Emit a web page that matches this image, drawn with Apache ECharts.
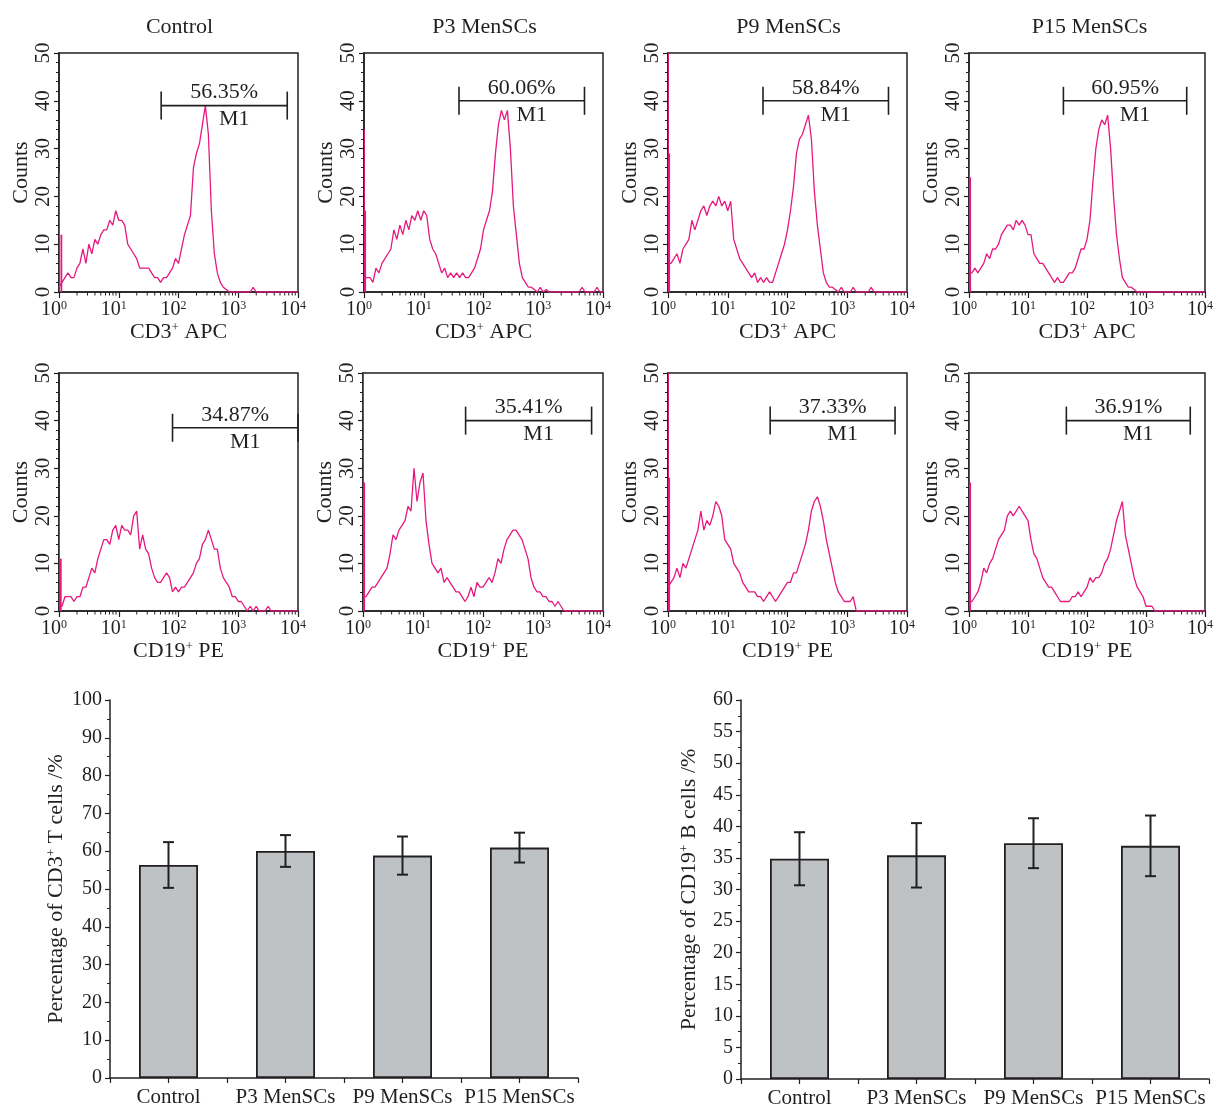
<!DOCTYPE html>
<html>
<head>
<meta charset="utf-8">
<script src="https://cdn.jsdelivr.net/npm/echarts@6/dist/echarts.min.js"></script>
<style>
html,body{margin:0;padding:0;background:#fff;}
#chart{width:1216px;height:1110px;}
</style>
</head>
<body>
<div id="chart"></div>
<script>
// ---------------- DATA ----------------
const groups = ['Control', 'P3 MenSCs', 'P9 MenSCs', 'P15 MenSCs'];
const cd3Percent = [56.35, 60.06, 58.84, 60.95];
const cd19Percent = [34.87, 35.41, 37.33, 36.91];
const cd3Sd = [6.05, 4.2, 5.05, 3.95];
const cd19Sd = [4.2, 5.1, 3.95, 4.8];
const decadeExponents = [0, 1, 2, 3, 4];
const binsPerDecade = 20;

// histogram counts, one value per bin (log10 channel = index / binsPerDecade)
const cd3CountsControl = [1,2,3,4,3,3,5,6,9,6, 10,8,11,10,12,13,13,15,14,17, 15,15,14,10,9,8,7,5,5,5, 5,4,3,3,2,3,3,4,5,7, 6,9,12,14,16,26,29,31,35,39, 33,17,8,4,2,1,0.5,0,0,0, 0,0,0,0,0,1,0,0,0,0, 0,0,0,0,0,0,0,0,0,0,0];
const cd3CountsP3 = [3,3,3,2,5,4,6,7,8,9, 13,11,14,12,15,13,16,15,17,15, 17,16,11,9,8,6,4,5,3,4, 3,4,3,4,3,3,4,5,7,9, 13,15,17,21,29,35,38,36,38,30, 18,12,6,3,2,1,1,0.5,0,1, 0,0.5,0,0,0,0,0,0,0,0, 0,0,0,1,0,0,0,0,1,0,0];
const cd3CountsP9 = [6,6,7,8,6,9,10,11,15,13, 15,17,18,16,18,19,18,20,18,19, 17,19,11,9,7,6,5,4,3,4, 2,3,2,3,2,2,4,6,8,10, 13,17,22,29,32,33,35,37,32,21, 14,9,4,2,1,1,0.5,0,1,0, 0,0,1,0,0,0,0,0,1,0, 0,0,0,0,0,0,0,0,0,0,0];
const cd3CountsP15 = [4,4,5,4,5,6,8,7,9,9, 10,12,13,14,14,13,15,14,15,14, 12,12,8,7,6,6,5,4,3,2, 3,2,2,3,4,4,5,7,9,9, 11,15,23,30,34,36,35,37,30,20, 12,7,3,2,1,1,0.5,0,0,0, 0,0,0,0,0,0,0,0,0,0, 0,0,0,0,0,0,0,0,0,0,0];
const cd19CountsControl = [1,1,3,3,3,2,3,3,5,5, 7,9,8,11,13,15,15,14,17,18, 15,18,17,17,16,20,21,13,16,13, 12,9,7,6,6,7,8,7,4,5, 4,5,5,6,7,8,10,11,14,15, 17,15,13,13,9,7,6,5,3,3, 2,2,1,0,1,0,1,0,0,0, 1,0,0,0,0,0,0,0,0,0,0];
const cd19CountsP3 = [3,3,4,5,5,6,7,8,9,12, 16,15,17,18,19,22,21,30,23,27, 29,19,14,10,9,8,9,6,7,6, 5,4,4,3,2,3,5,3,6,5, 5,6,7,6,8,11,10,13,15,16, 17,17,16,15,13,11,7,5,4,4, 3,3,2,2,1,2,1,0,0,0, 0,0,0,0,0,0,0,0,0,0,0];
const cd19CountsP9 = [5,6,7,9,7,10,9,11,13,15, 17,21,17,19,18,20,23,22,20,15, 14,13,10,9,8,6,5,4,4,4, 3,3,2,3,4,3,2,3,4,5, 6,6,8,8,10,12,14,17,21,23, 24,22,19,15,12,9,6,4,3,2, 2,2,3,0,0,0,0,0,0,0, 0,0,0,0,0,0,0,0,0,0,0];
const cd19CountsP15 = [2,2,3,4,6,9,8,10,11,13, 15,16,17,20,21,20,21,22,21,20, 19,15,12,11,9,7,6,5,5,4, 3,2,2,2,2,3,3,4,3,4, 5,7,6,7,7,8,10,11,13,16, 19,21,23,16,13,10,7,5,4,3, 1,1,1,0,0,0,0,0,0,0, 0,0,0,0,0,0,0,0,0,0,0];

// first-channel spikes: [log10 channel, count]
const cd3EdgeControl = [[0, 25], [0.04, 12]];
const cd3EdgeP3 = [[0, 34], [0.02, 17]];
const cd3EdgeP9 = [[0, 50], [0.02, 29]];
const cd3EdgeP15 = [[0, 46], [0.02, 24]];
const cd19EdgeControl = [[0, 21], [0.03, 11]];
const cd19EdgeP3 = [[0, 50], [0.02, 27]];
const cd19EdgeP9 = [[0, 50], [0.02, 28]];
const cd19EdgeP15 = [[0, 50], [0.02, 27]];

// M1 gates: [log10 start, log10 end, count level]
const cd3Gates = [[1.71, 3.82, 39], [1.59, 3.69, 40], [1.59, 3.69, 40], [1.60, 3.69, 40]];
const cd19Gates = [[1.90, 4.00, 38.5], [1.71, 3.81, 40], [1.71, 3.80, 40], [1.65, 3.75, 40]];

// ---------------- LAYOUT / STYLE ----------------
const FONT = '"Liberation Serif", "Times New Roman", serif';
const INK = '#231f20';
const PINK = '#e5197f';
const BAR_FILL = '#bfc2c5';

const cd3Counts = [cd3CountsControl, cd3CountsP3, cd3CountsP9, cd3CountsP15];
const cd19Counts = [cd19CountsControl, cd19CountsP3, cd19CountsP9, cd19CountsP15];
const cd3Edges = [cd3EdgeControl, cd3EdgeP3, cd3EdgeP9, cd3EdgeP15];
const cd19Edges = [cd19EdgeControl, cd19EdgeP3, cd19EdgeP9, cd19EdgeP15];

const histRects = [
  {left: 59, top: 53, width: 239, height: 239},
  {left: 364, top: 53, width: 239, height: 239},
  {left: 668, top: 53, width: 239, height: 239},
  {left: 969, top: 53, width: 239, height: 239},
  {left: 59, top: 373, width: 239, height: 238},
  {left: 363, top: 373, width: 240, height: 238},
  {left: 668, top: 373, width: 239, height: 238},
  {left: 969, top: 373, width: 239, height: 238}
];
const barRects = [
  {left: 110, top: 700, width: 468, height: 378},
  {left: 741, top: 700, width: 468, height: 379}
];

const minorLogTicks = [];
for (let d = 0; d < decadeExponents.length - 1; d++) {
  for (let k = 2; k <= 9; k++) minorLogTicks.push(d + Math.log10(k));
}

const grids = [], xAxes = [], yAxes = [], series = [], titles = [];

const panels = [];
for (let i = 0; i < 4; i++) panels.push({counts: cd3Counts[i], edge: cd3Edges[i], gate: cd3Gates[i], pct: cd3Percent[i], marker: 'CD3', chan: ' APC'});
for (let i = 0; i < 4; i++) panels.push({counts: cd19Counts[i], edge: cd19Edges[i], gate: cd19Gates[i], pct: cd19Percent[i], marker: 'CD19', chan: ' PE'});

const supRich = {
  n: {fontSize: 22, fontFamily: FONT, color: INK, lineHeight: 22},
  s: {fontSize: 13, fontFamily: FONT, color: INK, verticalAlign: 'top', lineHeight: 10}
};

panels.forEach((p, gi) => {
  const r = histRects[gi];
  grids.push(Object.assign({show: true, borderColor: INK, borderWidth: 1.5, backgroundColor: 'transparent', containLabel: false}, r));
  xAxes.push({
    type: 'value', gridIndex: gi, min: 0, max: 4, interval: 1,
    axisLine: {show: true, lineStyle: {color: INK, width: 1.5}},
    axisTick: {show: true, length: 6, lineStyle: {color: INK, width: 1.2}},
    splitLine: {show: false},
    axisLabel: {
      margin: 8, padding: [0, 10, 0, 0],
      formatter: v => '{b|10}{s|' + v + '}',
      rich: {
        b: {fontSize: 20, fontFamily: FONT, color: INK, lineHeight: 20},
        s: {fontSize: 12, fontFamily: FONT, color: INK, verticalAlign: 'top', lineHeight: 8}
      }
    },
    name: '{n|' + p.marker + '}{s|+}{n|' + p.chan + '}',
    nameLocation: 'middle', nameGap: 28,
    nameTextStyle: {rich: supRich}
  });
  yAxes.push({
    type: 'value', gridIndex: gi, min: 0, max: 50, interval: 10,
    axisLine: {show: true, lineStyle: {color: INK, width: 1.5}},
    axisTick: {show: true, length: 5, lineStyle: {color: INK, width: 1.2}},
    minorTick: {show: true, splitNumber: 5, length: 3, lineStyle: {color: INK, width: 1}},
    splitLine: {show: false},
    axisLabel: {rotate: 90, margin: 5, fontSize: 21, fontFamily: FONT, color: INK},
    name: 'Counts', nameLocation: 'middle', nameGap: 27,
    nameTextStyle: {fontSize: 22, fontFamily: FONT, color: INK}
  });
  // main histogram trace
  series.push({
    type: 'line', xAxisIndex: gi, yAxisIndex: gi, silent: true,
    data: p.counts.map((c, i) => [i / binsPerDecade, c]),
    showSymbol: false, symbol: 'none', clip: true,
    lineStyle: {color: PINK, width: 1.3}, z: 3
  });
  // first channel spikes
  series.push({
    type: 'custom', xAxisIndex: gi, yAxisIndex: gi, silent: true, clip: true,
    data: p.edge,
    renderItem: (params, api) => {
      const a = api.coord([api.value(0), 0]);
      const b = api.coord([api.value(0), api.value(1)]);
      return {type: 'line', shape: {x1: a[0], y1: a[1], x2: b[0], y2: b[1]}, style: {stroke: PINK, lineWidth: 1.8}};
    }, z: 4
  });
  // log minor ticks
  series.push({
    type: 'custom', xAxisIndex: gi, yAxisIndex: gi, silent: true, clip: false,
    data: minorLogTicks.map(v => [v]),
    renderItem: (params, api) => {
      const a = api.coord([api.value(0), 0]);
      return {type: 'line', shape: {x1: a[0], y1: a[1], x2: a[0], y2: a[1] + 3.5}, style: {stroke: INK, lineWidth: 1}};
    }
  });
  // M1 gate
  series.push({
    type: 'custom', xAxisIndex: gi, yAxisIndex: gi, silent: true, clip: false,
    data: [[p.gate[0], p.gate[1], p.gate[2], p.pct]],
    renderItem: (params, api) => {
      const a = api.coord([api.value(0), api.value(2)]);
      const b = api.coord([api.value(1), api.value(2)]);
      const mid = (a[0] + b[0]) / 2;
      const st = {stroke: INK, lineWidth: 1.6};
      const ts = {fontSize: 22, fontFamily: FONT, fill: INK, align: 'center', verticalAlign: 'middle'};
      return {type: 'group', children: [
        {type: 'line', shape: {x1: a[0], y1: a[1], x2: b[0], y2: b[1]}, style: st},
        {type: 'line', shape: {x1: a[0], y1: a[1] - 14, x2: a[0], y2: a[1] + 14}, style: st},
        {type: 'line', shape: {x1: b[0], y1: b[1] - 14, x2: b[0], y2: b[1] + 14}, style: st},
        {type: 'text', x: mid, y: a[1] - 13, style: Object.assign({text: api.value(3).toFixed(2) + '%'}, ts)},
        {type: 'text', x: mid + 10, y: a[1] + 14, style: Object.assign({text: 'M1'}, ts)}
      ]};
    }, z: 5
  });
  if (gi < 4) {
    titles.push({text: groups[gi], left: r.left + r.width / 2 - 4, top: 11, textAlign: 'center',
      textStyle: {fontSize: 22, fontWeight: 'normal', fontFamily: FONT, color: INK}});
  }
});

// bar charts
const barDefs = [
  {vals: cd3Percent, sd: cd3Sd, max: 100, interval: 10, label: 'CD3', cell: ' T cells /%', gap: 43},
  {vals: cd19Percent, sd: cd19Sd, max: 60, interval: 5, label: 'CD19', cell: ' B cells /%', gap: 41}
];
barDefs.forEach((b, k) => {
  const gi = 8 + k;
  grids.push(Object.assign({show: false}, barRects[k]));
  xAxes.push({
    type: 'value', gridIndex: gi, min: -0.5, max: groups.length - 0.5, interval: 0.5,
    axisLine: {show: true, onZero: false, lineStyle: {color: INK, width: 1.5}},
    axisTick: {show: true, length: 5, lineStyle: {color: INK, width: 1.2}},
    splitLine: {show: false},
    axisLabel: {margin: 9, fontSize: 21, fontFamily: FONT, color: INK,
      formatter: v => Number.isInteger(v) ? groups[v] : ''}
  });
  yAxes.push({
    type: 'value', gridIndex: gi, min: 0, max: b.max, interval: b.interval,
    axisLine: {show: true, onZero: false, lineStyle: {color: INK, width: 1.5}},
    axisTick: {show: true, length: 5, lineStyle: {color: INK, width: 1.2}},
    minorTick: {show: true, splitNumber: 2, length: 3, lineStyle: {color: INK, width: 1}},
    splitLine: {show: false},
    axisLabel: {margin: 8, fontSize: 20, fontFamily: FONT, color: INK},
    name: '{n|Percentage of ' + b.label + '}{s|+}{n|' + b.cell + '}',
    nameLocation: 'middle', nameGap: b.gap,
    nameTextStyle: {rich: supRich}
  });
  series.push({
    type: 'bar', xAxisIndex: gi, yAxisIndex: gi, silent: true, barWidth: 59,
    data: b.vals.map((v, i) => [i, v]),
    itemStyle: {color: BAR_FILL, borderColor: INK, borderWidth: 1.8}
  });
  series.push({
    type: 'custom', xAxisIndex: gi, yAxisIndex: gi, silent: true, clip: false,
    data: b.vals.map((v, i) => [i, v - b.sd[i], v + b.sd[i]]),
    renderItem: (params, api) => {
      const lo = api.coord([api.value(0), api.value(1)]);
      const hi = api.coord([api.value(0), api.value(2)]);
      const w = 5.5;
      const st = {stroke: INK, lineWidth: 2};
      return {type: 'group', children: [
        {type: 'line', shape: {x1: lo[0], y1: lo[1], x2: hi[0], y2: hi[1]}, style: st},
        {type: 'line', shape: {x1: lo[0] - w, y1: lo[1], x2: lo[0] + w, y2: lo[1]}, style: st},
        {type: 'line', shape: {x1: hi[0] - w, y1: hi[1], x2: hi[0] + w, y2: hi[1]}, style: st}
      ]};
    }, z: 6
  });
});

const chart = echarts.init(document.getElementById('chart'), null, {renderer: 'canvas'});
chart.setOption({
  animation: false,
  backgroundColor: '#fff',
  title: titles,
  grid: grids,
  xAxis: xAxes,
  yAxis: yAxes,
  series: series
});
</script>
</body>
</html>
